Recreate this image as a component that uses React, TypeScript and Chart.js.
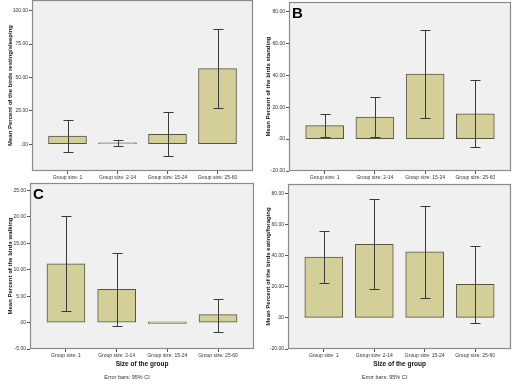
import React, { useEffect, useRef } from 'react';
import { Chart, registerables } from 'chart.js';
Chart.register(...registerables);

const FONT = 'Arial, "Liberation Sans", sans-serif';

// ---- data ----
const categories = ['Group size: 1', 'Group size: 2-14', 'Group size: 15-24', 'Group size: 25-60'];

const restingMean = [6.2, 0.7, 7.5, 56.6];
const restingLow = [-5.7, -1.5, -9.0, 27.2];
const restingHigh = [18.0, 3.0, 24.4, 86.0];
const restingTicks = [0, 25, 50, 75, 100];

const standingMean = [8.5, 13.8, 40.8, 15.8];
const standingLow = [1.5, 1.5, 13.5, -4.8];
const standingHigh = [15.6, 26.3, 68.3, 36.9];
const standingTicks = [-20, 0, 20, 40, 60, 80];

const walkingMean = [11.1, 6.3, 0, 1.5];
const walkingLow = [2.1, -0.6, 0, -1.7];
const walkingHigh = [20.1, 13.2, 0, 4.5];
const walkingTicks = [-5, 0, 5, 10, 15, 20, 25];

const eatingMean = [39.1, 47.3, 42.4, 21.5];
const eatingLow = [22.4, 18.3, 12.9, -3.2];
const eatingHigh = [55.5, 76.3, 71.8, 46.0];
const eatingTicks = [-20, 0, 20, 40, 60, 80];

const fmt = (v: number) => (v === 0 ? '.00' : v.toFixed(2));

type Panel = {
  left: number; top: number; width: number; height: number;
  mean: number[]; low: number[]; high: number[];
  yMin: number; yMax: number; yTicks: number[]; yTitle: string;
  letter?: string; xTitle?: string; footnote?: string;
  yAxisWidth: number; xAxisHeight: number; padTop: number; padRight: number;
};

const panels: Panel[] = [
  {
    left: 0, top: 0, width: 258, height: 182,
    mean: restingMean, low: restingLow, high: restingHigh,
    yMin: -20, yMax: 108, yTicks: restingTicks,
    yTitle: 'Mean Percent of the birds resting/sleeping',
    yAxisWidth: 32, xAxisHeight: 11, padTop: 0, padRight: 5,
  },
  {
    left: 258, top: 0, width: 258, height: 182,
    mean: standingMean, low: standingLow, high: standingHigh,
    yMin: -20, yMax: 86, yTicks: standingTicks,
    yTitle: 'Mean Percent of the birds standing', letter: 'B',
    yAxisWidth: 31, xAxisHeight: 11, padTop: 2, padRight: 5,
  },
  {
    left: 0, top: 182, width: 258, height: 202,
    mean: walkingMean, low: walkingLow, high: walkingHigh,
    yMin: -5, yMax: 26.4, yTicks: walkingTicks,
    yTitle: 'Mean Percent of the birds walking', letter: 'C',
    xTitle: 'Size of the group', footnote: 'Error bars: 95% CI',
    yAxisWidth: 30, xAxisHeight: 22.7, padTop: 1, padRight: 4,
  },
  {
    left: 258, top: 182, width: 258, height: 202,
    mean: eatingMean, low: eatingLow, high: eatingHigh,
    yMin: -20, yMax: 86, yTicks: eatingTicks,
    yTitle: 'Mean Percent of the birds eating/foraging',
    xTitle: 'Size of the group', footnote: 'Error bars: 95% CI',
    yAxisWidth: 30, xAxisHeight: 22.7, padTop: 2, padRight: 5,
  },
];

function PanelChart({ p }: { p: Panel }) {
  const ref = useRef<HTMLCanvasElement | null>(null);
  useEffect(() => {
    if (!ref.current) return;
    const bgPlugin = {
      id: 'bg',
      beforeDatasetsDraw(chart: any) {
        const { ctx, chartArea: a } = chart;
        ctx.save();
        ctx.fillStyle = '#f0f0f0';
        ctx.fillRect(a.left, a.top, a.right - a.left, a.bottom - a.top);
        ctx.restore();
      },
      afterDraw(chart: any) {
        const { ctx, chartArea: a } = chart;
        ctx.save();
        ctx.strokeStyle = '#8a8a8a';
        ctx.lineWidth = 1.2;
        ctx.strokeRect(a.left + 0.5, a.top + 0.5, a.right - a.left - 1, a.bottom - a.top - 1);
        if (p.letter) {
          ctx.fillStyle = '#000';
          ctx.font = `bold 15px ${FONT}`;
          ctx.textBaseline = 'top';
          ctx.textAlign = 'left';
          ctx.fillText(p.letter, a.left + 3, a.top + 4);
        }
        ctx.restore();
      },
    };
    const errPlugin = {
      id: 'err',
      afterDatasetsDraw(chart: any) {
        const { ctx } = chart;
        const xs = chart.scales.x;
        const ys = chart.scales.y;
        ctx.save();
        ctx.strokeStyle = '#3a3a3a';
        ctx.lineWidth = 1;
        p.mean.forEach((_, i) => {
          const x = Math.round(xs.getPixelForValue(i)) + 0.5;
          const yl = Math.round(ys.getPixelForValue(p.low[i])) + 0.5;
          const yh = Math.round(ys.getPixelForValue(p.high[i])) + 0.5;
          if (p.low[i] === p.high[i]) return;
          ctx.beginPath();
          ctx.moveTo(x, yl); ctx.lineTo(x, yh);
          ctx.moveTo(x - 5, yl); ctx.lineTo(x + 5, yl);
          ctx.moveTo(x - 5, yh); ctx.lineTo(x + 5, yh);
          ctx.stroke();
        });
        ctx.restore();
      },
    };
    const chart = new Chart(ref.current, {
      type: 'bar',
      data: {
        datasets: [{
          data: p.mean.map((v, i) => ({ x: i, y: v })),
          backgroundColor: '#d4cf98',
          borderColor: '#55553e',
          borderWidth: 1,
          borderSkipped: false,
          barThickness: 38,
          minBarLength: 1.5,
        } as any],
      },
      options: {
        animation: false,
        responsive: false,
        devicePixelRatio: 1,
        layout: { padding: { left: 0, top: p.padTop, right: p.padRight, bottom: 0 } },
        plugins: {
          legend: { display: false },
          tooltip: { enabled: false },
          title: { display: false },
          subtitle: p.footnote
            ? {
                display: true, position: 'bottom', text: p.footnote,
                font: { family: FONT, size: 5.5 }, color: '#333',
                padding: { top: 2, bottom: 3.7 },
              }
            : { display: false },
        },
        scales: {
          x: {
            type: 'linear',
            min: -0.71,
            max: 3.71,
            offset: false,
            bounds: 'ticks',
            afterBuildTicks: (s: any) => { s.ticks = categories.map((_, i) => ({ value: i })); },
            afterDataLimits: (s: any) => { s.min = -0.71; s.max = 3.71; },
            afterFit: (s: any) => {
              s.height = p.xAxisHeight;
              s.paddingLeft = 0; s.paddingRight = 0; s.paddingTop = 0; s.paddingBottom = 0;
            },
            ticks: {
              callback: (v: any) => categories[v] ?? '',
              font: { family: FONT, size: 5 }, color: '#333',
              padding: 1, maxRotation: 0, autoSkip: false,
            },
            grid: { offset: false, drawOnChartArea: false, drawTicks: true, tickLength: 3, color: '#555' },
            border: { display: false },
            title: p.xTitle
              ? {
                  display: true, text: p.xTitle,
                  font: { family: FONT, size: 6.5, weight: 'bold' }, color: '#111',
                  padding: { top: 0, bottom: 3.8 },
                }
              : { display: false },
          },
          y: {
            min: p.yMin,
            max: p.yMax,
            afterBuildTicks: (s: any) => { s.ticks = p.yTicks.map((v) => ({ value: v })); },
            afterFit: (s: any) => {
              s.width = p.yAxisWidth;
              s.paddingLeft = 0; s.paddingRight = 0; s.paddingTop = 0; s.paddingBottom = 0;
            },
            ticks: {
              callback: (v: any) => fmt(Number(v)),
              font: { family: FONT, size: 5 }, color: '#333', padding: 1,
            },
            grid: { drawOnChartArea: false, drawTicks: true, tickLength: 3, color: '#555' },
            border: { display: false },
            title: {
              display: true, text: p.yTitle,
              font: { family: FONT, size: 6, weight: 'bold' }, color: '#111',
              padding: { top: 7, bottom: 0 },
            },
          },
        },
      } as any,
      plugins: [bgPlugin, errPlugin],
    });
    return () => chart.destroy();
  }, [p]);
  return (
    <canvas
      ref={ref}
      width={p.width}
      height={p.height}
      style={{ position: 'absolute', left: p.left, top: p.top, width: p.width, height: p.height }}
    />
  );
}

export default function App() {
  return (
    <div style={{ position: 'fixed', left: 0, top: 0, width: 516, height: 384, background: '#fff' }}>
      {panels.map((p, i) => <PanelChart key={i} p={p} />)}
    </div>
  );
}
